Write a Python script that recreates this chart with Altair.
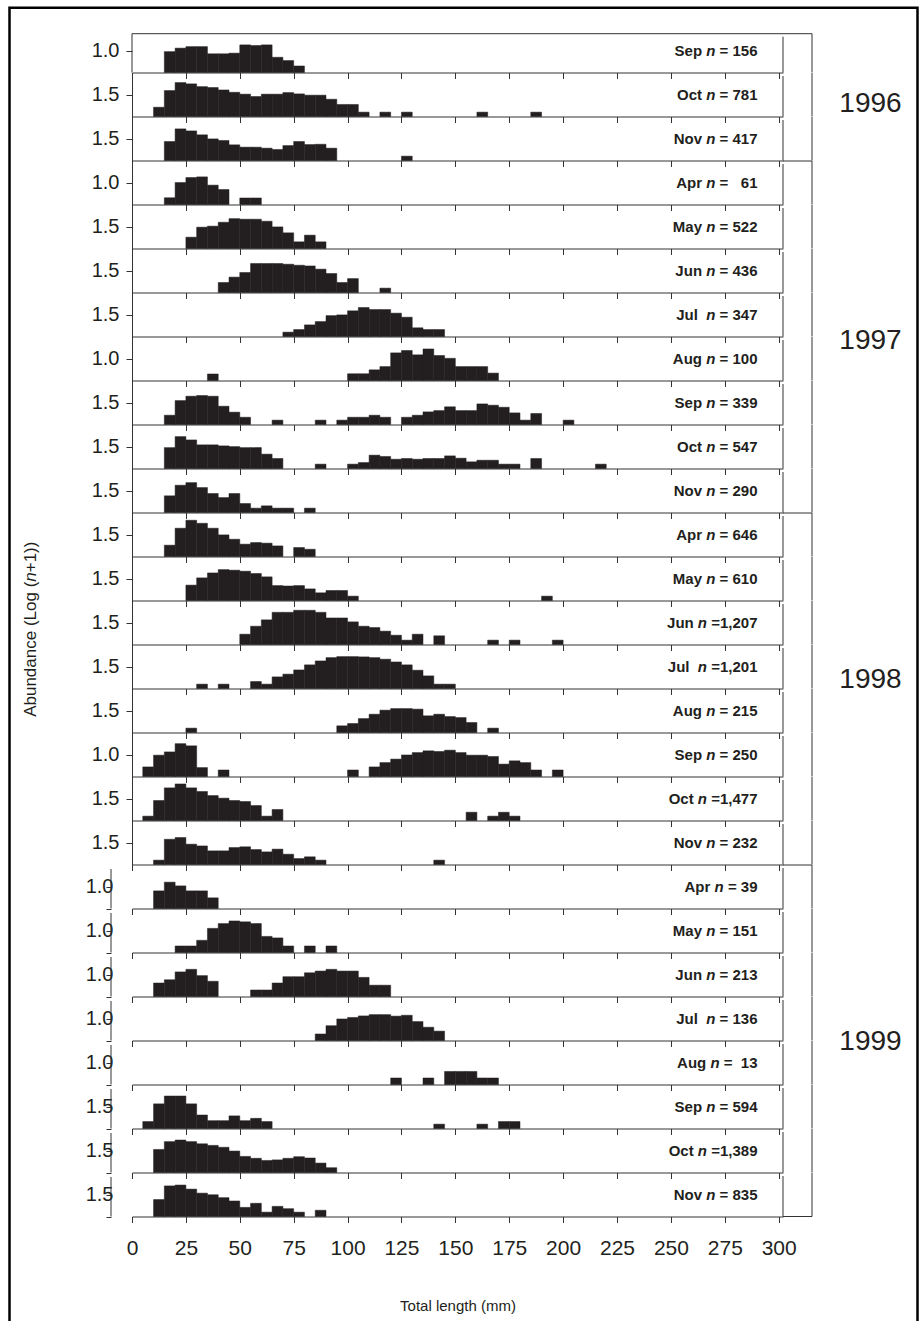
import altair as alt
import pandas as pd

# ---------------- data (log(n+1) abundance per 5-mm length class) ----------------
BIN = 5
x_ticks = [0, 25, 50, 75, 100, 125, 150, 175, 200, 225, 250, 275, 300]

panel_years = [1996] * 3 + [1997] * 8 + [1998] * 8 + [1999] * 8
month_text = ["Sep ", "Oct ", "Nov ",
              "Apr ", "May ", "Jun ", "Jul  ", "Aug ", "Sep ", "Oct ", "Nov ",
              "Apr ", "May ", "Jun ", "Jul  ", "Aug ", "Sep ", "Oct ", "Nov ",
              "Apr ", "May ", "Jun ", "Jul  ", "Aug ", "Sep ", "Oct ", "Nov "]
count_text = [" = 156", " = 781", " = 417",
              " =   61", " = 522", " = 436", " = 347", " = 100", " = 339", " = 547", " = 290",
              " = 646", " = 610", " =1,207", " =1,201", " = 215", " = 250", " =1,477", " = 232",
              " = 39", " = 151", " = 213", " = 136", " =  13", " = 594", " =1,389", " = 835"]
axis_unit = [1.0, 1.5, 1.5,
             1.0, 1.5, 1.5, 1.5, 1.0, 1.5, 1.5, 1.5,
             1.5, 1.5, 1.5, 1.5, 1.5, 1.0, 1.5, 1.5,
             1.0, 1.0, 1.0, 1.0, 1.0, 1.5, 1.5, 1.5]

sep96_len = [15, 20, 25, 30, 35, 40, 45, 50, 55, 60, 65, 70, 75]
sep96_abund = [0.96, 1.12, 1.19, 1.19, 0.86, 0.86, 0.89, 1.27, 1.24, 1.27, 0.70, 0.55, 0.30]
oct96_len = [10, 15, 20, 25, 30, 35, 40, 45, 50, 55, 60, 65, 70, 75, 80, 85, 90, 95, 100, 105, 115, 125, 160, 185]
oct96_abund = [0.64, 1.79, 2.34, 2.25, 2.06, 2.00, 1.83, 1.67, 1.54, 1.38, 1.54, 1.54, 1.65, 1.56, 1.47, 1.47,
               1.19, 0.83, 0.83, 0.30, 0.30, 0.30, 0.30, 0.30]
nov96_len = [15, 20, 25, 30, 35, 40, 45, 50, 55, 60, 65, 70, 75, 80, 85, 90, 125]
nov96_abund = [1.31, 2.18, 2.04, 1.77, 1.49, 1.38, 1.08, 0.92, 0.92, 0.85, 0.76, 1.03, 1.31, 1.10, 1.12, 0.85, 0.30]

apr97_len = [15, 20, 25, 30, 35, 40, 50, 55]
apr97_abund = [0.31, 1.01, 1.24, 1.27, 0.89, 0.69, 0.30, 0.30]
may97_len = [25, 30, 35, 40, 45, 50, 55, 60, 65, 70, 75, 80, 85]
may97_abund = [0.78, 1.47, 1.54, 1.81, 2.06, 2.02, 2.02, 1.88, 1.49, 1.08, 0.46, 0.92, 0.46]
jun97_len = [40, 45, 50, 55, 60, 65, 70, 75, 80, 85, 90, 95, 100, 115]
jun97_abund = [0.69, 1.06, 1.38, 2.00, 2.00, 2.00, 1.95, 1.88, 1.83, 1.61, 1.31, 0.69, 0.96, 0.30]
jul97_len = [70, 75, 80, 85, 90, 95, 100, 105, 110, 115, 120, 125, 130, 135, 140]
jul97_abund = [0.30, 0.48, 0.80, 1.03, 1.44, 1.49, 1.77, 2.00, 1.86, 1.86, 1.61, 1.33, 0.60, 0.48, 0.48]
aug97_len = [35, 100, 105, 110, 115, 120, 125, 130, 135, 140, 145, 150, 155, 160, 165]
aug97_abund = [0.30, 0.31, 0.31, 0.49, 0.64, 1.27, 1.38, 1.18, 1.45, 1.15, 1.02, 0.64, 0.64, 0.64, 0.34]
sep97_len = [15, 20, 25, 30, 35, 40, 45, 50, 65, 85, 95, 100, 105, 110, 115, 125, 130, 135, 140, 145, 150,
             155, 160, 165, 170, 175, 180, 185, 200]
sep97_abund = [0.64, 1.65, 1.95, 2.00, 1.95, 1.26, 0.85, 0.50, 0.30, 0.30, 0.30, 0.50, 0.50, 0.64, 0.50, 0.50,
               0.64, 0.87, 0.96, 1.22, 0.96, 0.96, 1.42, 1.33, 1.19, 0.80, 0.30, 0.76, 0.30]
oct97_len = [15, 20, 25, 30, 35, 40, 45, 50, 55, 60, 65, 85, 100, 105, 110, 115, 120, 125, 130, 135, 140,
             145, 150, 155, 160, 165, 170, 175, 185, 215]
oct97_abund = [1.44, 2.20, 1.97, 1.63, 1.63, 1.56, 1.51, 1.44, 1.44, 0.99, 0.69, 0.30, 0.30, 0.41, 0.92, 0.83,
               0.64, 0.69, 0.64, 0.69, 0.69, 0.87, 0.71, 0.46, 0.57, 0.57, 0.30, 0.30, 0.69, 0.30]
nov97_len = [15, 20, 25, 30, 35, 40, 45, 50, 55, 60, 65, 70, 80]
nov97_abund = [1.15, 1.88, 2.06, 1.72, 1.31, 1.03, 1.31, 0.62, 0.30, 0.46, 0.30, 0.30, 0.30]

apr98_len = [15, 20, 25, 30, 35, 40, 45, 50, 55, 60, 65, 75, 80]
apr98_abund = [0.78, 1.95, 2.50, 2.29, 1.95, 1.49, 1.19, 0.85, 0.96, 0.92, 0.73, 0.62, 0.50]
may98_len = [25, 30, 35, 40, 45, 50, 55, 60, 65, 70, 75, 80, 85, 90, 95, 100, 190]
may98_abund = [1.06, 1.56, 1.90, 2.13, 2.09, 2.02, 1.86, 1.63, 1.03, 1.00, 1.03, 0.80, 0.53, 0.69, 0.69, 0.30, 0.30]
jun98_len = [50, 55, 60, 65, 70, 75, 80, 85, 90, 95, 100, 105, 110, 115, 120, 125, 130, 140, 165, 175, 195]
jun98_abund = [0.71, 1.26, 1.70, 2.22, 2.22, 2.36, 2.36, 2.22, 1.83, 1.83, 1.56, 1.26, 1.17, 0.92, 0.64, 0.30,
               0.71, 0.60, 0.30, 0.30, 0.30]
jul98_len = [30, 40, 55, 60, 65, 70, 75, 80, 85, 90, 95, 100, 105, 110, 115, 120, 125, 130, 135, 140, 145]
jul98_abund = [0.30, 0.30, 0.48, 0.30, 0.80, 0.99, 1.28, 1.63, 1.90, 2.13, 2.20, 2.20, 2.18, 2.13, 2.02, 1.83,
               1.63, 1.26, 0.87, 0.30, 0.30]
aug98_len = [25, 95, 100, 105, 110, 115, 120, 125, 130, 135, 140, 145, 150, 155, 165]
aug98_abund = [0.30, 0.46, 0.62, 0.96, 1.26, 1.54, 1.65, 1.65, 1.61, 1.15, 1.26, 1.10, 1.03, 0.69, 0.30]
sep98_len = [5, 10, 15, 20, 25, 30, 40, 100, 110, 115, 120, 125, 130, 135, 140, 145, 150, 155, 160, 165, 170,
             175, 180, 185, 195]
sep98_abund = [0.44, 0.98, 1.13, 1.51, 1.41, 0.41, 0.30, 0.30, 0.44, 0.64, 0.80, 0.99, 1.10, 1.18, 1.15, 1.21,
               1.10, 0.98, 0.98, 0.92, 0.57, 0.72, 0.64, 0.30, 0.30]
oct98_len = [5, 10, 15, 20, 25, 30, 35, 40, 45, 50, 55, 60, 65, 155, 165, 170, 175]
oct98_abund = [0.30, 1.38, 2.25, 2.52, 2.25, 2.00, 1.72, 1.54, 1.38, 1.31, 1.03, 0.30, 0.76, 0.57, 0.30, 0.57, 0.30]
nov98_len = [10, 15, 20, 25, 30, 35, 40, 45, 50, 55, 60, 65, 70, 75, 80, 85, 140]
nov98_abund = [0.30, 1.74, 1.86, 1.40, 1.28, 0.94, 0.94, 1.17, 1.22, 1.03, 0.87, 1.06, 0.71, 0.41, 0.53, 0.30, 0.30]

apr99_len = [10, 15, 20, 25, 30, 35]
apr99_abund = [0.81, 1.21, 1.04, 0.81, 0.81, 0.49]
may99_len = [20, 25, 30, 35, 40, 45, 50, 55, 60, 65, 70, 80, 90]
may99_abund = [0.30, 0.30, 0.56, 1.11, 1.33, 1.45, 1.41, 1.33, 0.74, 0.67, 0.30, 0.30, 0.30]
jun99_len = [10, 15, 20, 25, 30, 35, 55, 60, 65, 70, 75, 80, 85, 90, 95, 100, 105, 110, 115]
jun99_abund = [0.62, 0.77, 1.13, 1.25, 0.96, 0.70, 0.30, 0.30, 0.62, 0.91, 0.91, 1.09, 1.17, 1.25, 1.17, 1.17,
               0.88, 0.52, 0.52]
jul99_len = [85, 90, 95, 100, 105, 110, 115, 120, 125, 130, 135, 140]
jul99_abund = [0.30, 0.68, 0.99, 1.06, 1.13, 1.19, 1.19, 1.12, 1.16, 0.87, 0.61, 0.43]
aug99_len = [120, 135, 145, 150, 155, 160, 165]
aug99_abund = [0.30, 0.30, 0.60, 0.60, 0.60, 0.30, 0.30]
sep99_len = [5, 10, 15, 20, 25, 30, 35, 40, 45, 50, 55, 60, 140, 160, 170, 175]
sep99_abund = [0.48, 1.70, 2.24, 2.24, 1.70, 0.93, 0.54, 0.54, 0.87, 0.54, 0.70, 0.48, 0.30, 0.30, 0.48, 0.48]
oct99_len = [10, 15, 20, 25, 30, 35, 40, 45, 50, 55, 60, 65, 70, 75, 80, 85, 90]
oct99_abund = [1.59, 2.13, 2.24, 2.13, 1.98, 1.87, 1.74, 1.48, 1.11, 0.98, 0.83, 0.87, 0.98, 1.09, 1.00, 0.65, 0.33]
nov99_len = [10, 15, 20, 25, 30, 35, 40, 45, 50, 55, 60, 65, 70, 75, 85]
nov99_abund = [1.17, 2.11, 2.17, 1.89, 1.61, 1.50, 1.30, 1.07, 0.63, 0.91, 0.30, 0.70, 0.54, 0.30, 0.43]

lengths = [sep96_len, oct96_len, nov96_len,
           apr97_len, may97_len, jun97_len, jul97_len, aug97_len, sep97_len, oct97_len, nov97_len,
           apr98_len, may98_len, jun98_len, jul98_len, aug98_len, sep98_len, oct98_len, nov98_len,
           apr99_len, may99_len, jun99_len, jul99_len, aug99_len, sep99_len, oct99_len, nov99_len]
abunds = [sep96_abund, oct96_abund, nov96_abund,
          apr97_abund, may97_abund, jun97_abund, jul97_abund, aug97_abund, sep97_abund, oct97_abund, nov97_abund,
          apr98_abund, may98_abund, jun98_abund, jul98_abund, aug98_abund, sep98_abund, oct98_abund, nov98_abund,
          apr99_abund, may99_abund, jun99_abund, jul99_abund, aug99_abund, sep99_abund, oct99_abund, nov99_abund]

# ---------------- layout / style ----------------
FONT = "Liberation Sans"
INK = "#231f20"
LINE = "#333333"
W = 651            # plot width per panel (0..302 mm)
H = 43.5           # plot height per panel
X0, Y0 = 131.5, 28.3   # page position of first panel's top-left
BOX = 29           # width of the year box to the right of the panels
TOP0 = 33 - Y0     # first panel's visible top border
NB = "\u00a0"

BOLD = {' ': 278, NB: 278, '=': 584, ',': 278, 'A': 722, 'J': 556, 'M': 833, 'N': 722, 'O': 778, 'S': 667,
        'a': 556, 'c': 556, 'e': 556, 'g': 611, 'l': 278, 'n': 611, 'o': 611, 'p': 611, 'r': 389, 't': 333,
        'u': 611, 'v': 556, 'y': 556}
REG = {' ': 278, NB: 278, 'A': 667, 'L': 556, 'a': 556, 'b': 556, 'c': 500, 'd': 556, 'e': 556, 'g': 556,
       'n': 556, 'o': 556, 'u': 556, '(': 333, ')': 333, '+': 584}


def width(s, fs, table):
    return sum(table.get(ch, 556) for ch in s) * fs / 1000.0


one = pd.DataFrame({"k": [0]})


def vrule(x, y, y2, color=LINE, sw=1.0):
    return alt.Chart(one).mark_rule(color=color, strokeWidth=sw).encode(
        x=alt.value(x), y=alt.value(y), y2=alt.value(y2))


def hrule(x, x2, y, color=LINE, sw=1.0):
    return alt.Chart(one).mark_rule(color=color, strokeWidth=sw).encode(
        x=alt.value(x), x2=alt.value(x2), y=alt.value(y))


def text(s, x, y, **kw):
    return alt.Chart(pd.DataFrame({"t": [s]})).mark_text(font=FONT, color=INK, **kw).encode(
        text="t:N", x=alt.value(x), y=alt.value(y))


first_of_year = {0: 0, 3: 1, 11: 2, 19: 3}
year_label_pos = {1: ("1996", 103.0), 7: ("1997", 337.0), 14: ("1998", 672.0), 23: ("1999", 1030.0)}

LAB_FS = 15
LAB_RIGHT = 757 - X0
SP = width(" ", LAB_FS, BOLD)

charts = []
for i in range(27):
    U = axis_unit[i]
    is99 = panel_years[i] == 1999
    last = i == 26
    top = Y0 + H * i
    df = pd.DataFrame({"length": lengths[i], "abund": abunds[i]})
    df["length_end"] = df["length"] + BIN
    df["base"] = 0.0

    if last:
        xaxis = alt.Axis(values=x_ticks, tickSize=6, labelFontSize=21, labelPadding=15, labelFlush=False,
                         title="Total length (mm)", titleFontSize=15, titlePadding=40, titleFontWeight="normal",
                         grid=False)
    else:
        xaxis = alt.Axis(values=x_ticks, tickSize=6, labels=False, title=None, grid=False)

    if is99:
        yaxis = alt.Axis(values=[0, U], format=".1f", labelExpr="datum.value == 0 ? '' : datum.label",
                         offset=21, domain=False, tickSize=5, labelPadding=-7, title=None, grid=False,
                         labelFontSize=20)
    else:
        yaxis = alt.Axis(values=[U], format=".1f", tickSize=6, labelPadding=7, title=None, grid=False,
                         labelFontSize=20, domain=(i != 0))

    bars = alt.Chart(df).mark_rect(color=INK, stroke=INK, strokeWidth=0.5).encode(
        x=alt.X("length:Q", scale=alt.Scale(domain=[0, 302], nice=False, zero=False), axis=xaxis),
        x2="length_end",
        y=alt.Y("abund:Q", scale=alt.Scale(domain=[0, 2 * U], nice=False), axis=yaxis),
        y2="base",
    )

    layers = [bars]

    # panel label: "Mon n = count" with italic n
    mon_raw = month_text[i]
    mon = mon_raw.rstrip(" ")
    mon_gap = (len(mon_raw) - len(mon)) * SP
    cnt_raw = count_text[i]
    cnt = cnt_raw.lstrip(" ").replace(" ", NB)
    cnt_gap = (len(cnt_raw) - len(cnt_raw.lstrip(" "))) * SP
    w_cnt = width(cnt, LAB_FS, BOLD)
    w_n = width("n", LAB_FS, BOLD)
    x_n = LAB_RIGHT - w_cnt - cnt_gap
    layers.append(text(cnt, LAB_RIGHT, H / 2, align="right", baseline="middle", fontSize=LAB_FS,
                       fontWeight="bold"))
    layers.append(text("n", x_n, H / 2, align="right", baseline="middle", fontSize=LAB_FS,
                       fontWeight="bold", fontStyle="italic"))
    layers.append(text(mon, x_n - w_n - mon_gap, H / 2, align="right", baseline="middle",
                       fontSize=LAB_FS, fontWeight="bold"))

    # borders: panel right edge and the year box
    ytop = TOP0 if i == 0 else 0
    layers.append(vrule(W, ytop + 3, H))
    layers.append(vrule(W + BOX, ytop, H))
    if i == 0:
        layers.append(vrule(0, ytop, H))
        layers.append(hrule(0, W + BOX, ytop))
    elif i in first_of_year:
        layers.append(hrule(W, W + BOX, 0))
    if last:
        layers.append(hrule(W, W + BOX, H))
    if is99:
        layers.append(vrule(-21, 4, H))

    if i in year_label_pos:
        name, yabs = year_label_pos[i]
        layers.append(text(name, 870 - X0, yabs - top, align="center", baseline="middle", fontSize=28))

    if i == 13:
        fs = 17
        p1, p2, p3 = "Abundance (Log (", "n", "+1))"
        w1, w2, w3 = width(p1, fs, REG), width(p2, fs, REG), width(p3, fs, REG)
        start = 622 + (w1 + w2 + w3) / 2 - top
        xt = 30 - X0
        layers.append(text(p1, xt, start, angle=270, align="left", baseline="middle", fontSize=fs))
        layers.append(text(p2, xt, start - w1, angle=270, align="left", baseline="middle", fontSize=fs,
                           fontStyle="italic"))
        layers.append(text(p3, xt, start - w1 - w2, angle=270, align="left", baseline="middle", fontSize=fs))

    if i == 0:
        frame = alt.Chart(one).mark_rect(fillOpacity=0, stroke="#000000", strokeWidth=2.5).encode(
            x=alt.value(9 - X0), x2=alt.value(917 - X0), y=alt.value(7 - Y0), y2=alt.value(1335 - Y0))
        layers.append(frame)

    charts.append(alt.layer(*layers).properties(width=W, height=H))

chart = alt.vconcat(*charts, spacing=0, bounds="flush").properties(
    padding={"left": 8, "top": 6, "right": 3, "bottom": 0},
    background="white",
).configure_view(stroke=None).configure_axis(
    labelFont=FONT, titleFont=FONT, labelColor=INK, titleColor=INK,
    domainColor=LINE, tickColor=LINE, domainWidth=1, tickWidth=1,
)

chart.save("out.html", embed_options={"renderer": "svg", "actions": False})
